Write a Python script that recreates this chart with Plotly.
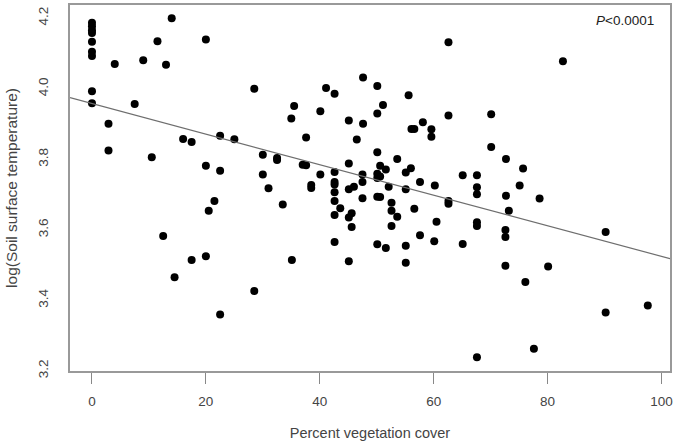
import plotly.graph_objects as go

# percent vegetation cover vs log(soil surface temperature)
veg_cover = [
    0, 0, 0, 0, 0, 0, 0, 0, 0,
    2.9, 2.9, 4.0, 7.5, 9.0, 10.5, 11.5, 12.5, 13.0, 14.0, 14.5,
    16.0, 17.5, 17.5, 20.0, 20.0, 20.0, 20.5, 21.5, 22.5, 22.5, 22.5,
    25.0, 28.5, 28.5, 30.0, 30.0, 31.0, 32.5, 32.5, 33.5,
    35.0, 35.1, 35.5, 37.0, 37.6, 37.6, 38.5, 38.5,
    40.1, 40.1, 41.1, 42.6, 42.6, 42.6, 42.6, 42.6, 42.6, 42.6, 42.6,
    43.6, 45.1, 45.1, 45.1, 46.0, 45.6, 45.1, 45.6, 45.1, 46.5,
    47.6, 47.6, 47.5, 47.5, 47.5,
    50.1, 50.1, 51.1, 50.1, 50.6, 51.6, 50.1, 50.6, 50.1, 50.1, 50.6,
    50.1, 51.6, 52.1, 52.6, 52.6, 52.6, 53.6, 53.6,
    55.1, 55.1, 55.1, 55.1, 55.6, 56.0, 56.1, 56.6, 56.6,
    57.6, 57.6, 58.1, 59.6, 59.6, 60.2, 60.5, 60.1,
    62.6, 62.6, 62.6, 62.6, 65.1, 65.1,
    67.6, 67.6, 67.6, 67.6, 67.6, 67.6,
    70.1, 70.1, 72.7, 72.7, 72.6, 72.6, 72.6, 73.2,
    75.1, 75.7, 76.1, 77.6, 78.6, 80.1, 82.7, 90.2, 90.2, 97.6,
]
log_soil_temp = [
    4.187, 4.177, 4.166, 4.158, 4.133, 4.105, 4.093, 3.993, 3.959,
    3.901, 3.825, 4.070, 3.957, 4.081, 3.806, 4.135, 3.583, 4.068, 4.200, 3.466,
    3.858, 3.849, 3.515, 4.140, 3.782, 3.525, 3.654, 3.682, 3.867, 3.768, 3.360,
    3.857, 4.000, 3.427, 3.813, 3.757, 3.718, 3.804, 3.798, 3.672,
    3.916, 3.515, 3.951, 3.785, 3.783, 3.862, 3.727, 3.719,
    3.936, 3.757, 4.002, 3.986, 3.764, 3.736, 3.729, 3.707, 3.682, 3.642, 3.566,
    3.661, 3.910, 3.788, 3.715, 3.722, 3.647, 3.635, 3.608, 3.511, 3.856,
    4.032, 3.901, 3.757, 3.736, 3.690,
    4.008, 3.930, 3.954, 3.820, 3.782, 3.771, 3.759, 3.751, 3.747, 3.694, 3.693,
    3.559, 3.549, 3.722, 3.677, 3.654, 3.611, 3.801, 3.637,
    3.763, 3.715, 3.555, 3.507, 3.982, 3.775, 3.886, 3.886, 3.660,
    3.736, 3.585, 3.905, 3.885, 3.864, 3.726, 3.623, 3.568,
    4.132, 3.924, 3.682, 3.674, 3.755, 3.560,
    3.755, 3.721, 3.701, 3.622, 3.611, 3.239,
    3.928, 3.835, 3.801, 3.697, 3.600, 3.580, 3.498, 3.654,
    3.726, 3.774, 3.452, 3.263, 3.689, 3.496, 4.078, 3.594, 3.366, 3.386,
]

# fitted regression line
fit_intercept = 3.958
fit_slope = -0.00433

x_ticks = [0, 20, 40, 60, 80, 100]
y_ticks = [3.2, 3.4, 3.6, 3.8, 4.0, 4.2]
y_tick_labels = ["3.2", "3.4", "3.6", "3.8", "4.0", "4.2"]
x_range = [-3.86, 101.5]
y_range = [3.2, 4.2375]

fit_x = x_range
fit_y = [fit_intercept + fit_slope * v for v in fit_x]

fig = go.Figure()
fig.add_trace(go.Scatter(
    x=veg_cover, y=log_soil_temp, mode="markers",
    marker=dict(color="black", size=8),
    showlegend=False,
))
fig.add_trace(go.Scatter(
    x=fit_x, y=fit_y, mode="lines",
    line=dict(color="#6e6e6e", width=1.2),
    showlegend=False,
))

fig.add_annotation(
    text="<i>P</i><0.0001", xref="paper", yref="paper",
    x=0.977, y=0.957, xanchor="right", yanchor="middle",
    showarrow=False,
    font=dict(family="Liberation Sans, Arial, sans-serif", size=13.5, color="#222"),
)

family = "Liberation Sans, Arial, sans-serif"
tick_font = dict(family=family, size=13.5, color="#444")

fig.update_xaxes(
    range=x_range, tickvals=x_ticks, ticks="outside", ticklen=11,
    tickcolor="#888", tickwidth=1.2, ticklabelstandoff=6,
    showline=True, linecolor="#999", linewidth=1.5, mirror=True,
    showgrid=False, zeroline=False, tickfont=tick_font,
    title=dict(text="Percent vegetation cover",
               font=dict(family=family, size=14.5, color="#444"), standoff=20),
)
fig.update_yaxes(
    range=y_range, tickvals=y_ticks, ticktext=y_tick_labels,
    tickangle=-90, ticks="", ticklabelstandoff=15,
    showline=True, linecolor="#999", linewidth=1.5, mirror=True,
    showgrid=False, zeroline=False, tickfont=tick_font,
    title=dict(text="log(Soil surface temperature)",
               font=dict(family=family, size=15.5, color="#444"), standoff=14),
)

fig.update_layout(
    width=677, height=445,
    margin=dict(l=70, r=7, t=3, b=74),
    plot_bgcolor="white", paper_bgcolor="white",
)

fig.write_html("out.html", config={"displayModeBar": False},
               post_script="document.body.style.margin='0';")
